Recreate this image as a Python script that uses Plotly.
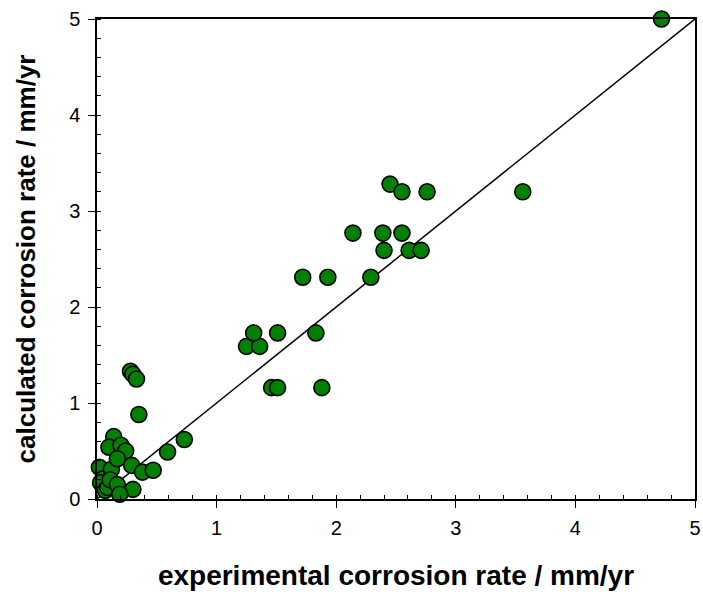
import plotly.graph_objects as go

# measured (experimental) vs. model (calculated) corrosion rates, mm/yr
experimental = [
    0.02, 0.05, 0.03, 0.07, 0.09, 0.12, 0.11, 0.14, 0.10, 0.20, 0.24, 0.17,
    0.29, 0.38, 0.47, 0.17, 0.30, 0.19, 0.59, 0.73, 0.35, 0.28, 0.30, 0.33,
    1.25, 1.36, 1.31, 1.51, 1.83, 1.46, 1.51, 1.88, 1.72, 1.93, 2.29, 2.14,
    2.39, 2.55, 2.40, 2.61, 2.71, 2.45, 2.55, 2.76, 3.56, 4.72,
]
calculated = [
    0.33, 0.21, 0.17, 0.09, 0.12, 0.31, 0.20, 0.65, 0.54, 0.56, 0.50, 0.42,
    0.35, 0.28, 0.30, 0.15, 0.10, 0.05, 0.49, 0.62, 0.88, 1.33, 1.30, 1.25,
    1.59, 1.59, 1.73, 1.73, 1.73, 1.16, 1.16, 1.16, 2.31, 2.31, 2.31, 2.77,
    2.77, 2.77, 2.59, 2.59, 2.59, 3.28, 3.20, 3.20, 3.20, 5.00,
]
parity_line = [0, 5]
tick_values = [0, 1, 2, 3, 4, 5]

FONT = "Liberation Sans, Arial, sans-serif"

fig = go.Figure()

# 1:1 reference line
fig.add_trace(go.Scatter(
    x=parity_line, y=parity_line, mode="lines",
    line=dict(color="black", width=1.5),
    hoverinfo="skip", showlegend=False,
))

fig.add_trace(go.Scatter(
    x=experimental, y=calculated, mode="markers",
    marker=dict(size=16, color="#008000", line=dict(color="black", width=1.6)),
    cliponaxis=False, showlegend=False,
))

axis_common = dict(
    range=[0, 5], tickvals=tick_values, showgrid=False, zeroline=False,
    showline=True, linecolor="black", linewidth=1.5, mirror=True,
    ticks="outside", ticklen=7, tickwidth=1.2, tickcolor="black",
    tickfont=dict(family=FONT, size=20, color="black"),
    minor=dict(dtick=0.2, ticks="inside", ticklen=4, tickwidth=1, tickcolor="black"),
    automargin=False,
)

fig.update_xaxes(
    **axis_common,
    ticklabelstandoff=3,
    title=dict(text="<b>experimental corrosion rate / mm/yr</b>", standoff=28,
               font=dict(family=FONT, size=28, color="black")),
)
fig.update_yaxes(
    **axis_common,
    ticklabelstandoff=4,
    title=dict(text="<b>calculated corrosion rate / mm/yr</b>", standoff=26,
               font=dict(family=FONT, size=26, color="black")),
)

fig.update_layout(
    width=703, height=594,
    margin=dict(l=97, r=8, t=19, b=95, autoexpand=False),
    plot_bgcolor="white", paper_bgcolor="white",
)

fig.write_html("out.html")
